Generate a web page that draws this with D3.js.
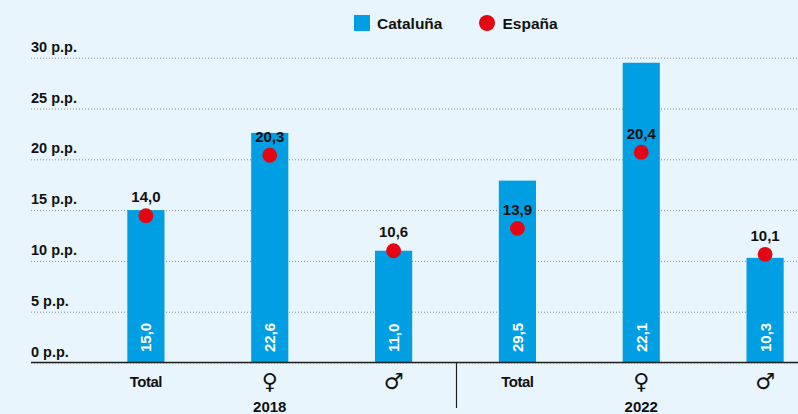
<!DOCTYPE html>
<html>
<head>
<meta charset="utf-8">
<script src="https://cdn.jsdelivr.net/npm/d3@7"></script>
<style>
  html, body { margin: 0; padding: 0; background: #e8f5fd; }
  svg { display: block; font-family: "Liberation Sans", Arial, sans-serif; }
</style>
</head>
<body>
<svg id="chart"></svg>
<script>
const width = 798;
const height = 414;

// data
const keys = ["2018-T", "2018-F", "2018-M", "2022-T", "2022-F", "2022-M"];
const catLabels = ["Total", "\u2640", "\u2642", "Total", "\u2640", "\u2642"];
const years = ["2018", "2022"];
const catValues = [15.0, 22.6, 11.0, 17.9, 29.5, 10.3]; // bar heights as drawn
const catText = ["15,0", "22,6", "11,0", "29,5", "22,1", "10,3"];
const espValues = [14.45, 20.4, 11.0, 13.2, 20.7, 10.65]; // dot positions as drawn
const espText = ["14,0", "20,3", "10,6", "13,9", "20,4", "10,1"];
const yTicks = [0, 5, 10, 15, 20, 25, 30];

const svg = d3.select("#chart").attr("width", width).attr("height", height);

const x = d3.scaleBand().domain(keys).range([84, 827]).paddingInner(0.7).paddingOuter(0.35);
const y = d3.scaleLinear().domain([0, 30]).range([362.5, 57.7]);

// y axis + dotted grid
const yAxis = svg.append("g")
  .attr("transform", "translate(31,0)")
  .call(d3.axisRight(y).tickValues(yTicks).tickSize(767).tickFormat(d => d + " p.p."));
yAxis.select(".domain").remove();
yAxis.selectAll(".tick line")
  .attr("stroke", "#8a8f94")
  .attr("stroke-dasharray", "1,2")
  .attr("stroke-width", 1);
yAxis.selectAll(".tick text")
  .attr("x", 0)
  .attr("dy", -6.5)
  .attr("text-anchor", "start")
  .attr("fill", "#111")
  .style("font-family", "'Liberation Sans', Arial, sans-serif")
  .style("font-size", "14.5px")
  .style("font-weight", "bold");

// bars
svg.selectAll(".bar")
  .data(keys)
  .enter()
  .append("rect")
  .attr("x", (d) => x(d))
  .attr("width", x.bandwidth())
  .attr("y", (d, i) => y(catValues[i]))
  .attr("height", (d, i) => y(0) - y(catValues[i]))
  .attr("fill", "#009fe3");

// bar labels (white, rotated)
svg.selectAll(".barlab")
  .data(keys)
  .enter()
  .append("text")
  .attr("transform", (d) => `translate(${x(d) + x.bandwidth() / 2 + 5.5}, 352) rotate(-90)`)
  .attr("fill", "#fff")
  .style("font-size", "15px")
  .style("font-weight", "bold")
  .text((d, i) => catText[i]);

// baseline
svg.append("line")
  .attr("x1", 31).attr("x2", width)
  .attr("y1", y(0)).attr("y2", y(0))
  .attr("stroke", "#222").attr("stroke-width", 1.6);

// separator between years
svg.append("line")
  .attr("x1", 456.5).attr("x2", 456.5)
  .attr("y1", y(0)).attr("y2", 408)
  .attr("stroke", "#222").attr("stroke-width", 1.2);

// x axis labels
const xAxis = svg.append("g")
  .attr("transform", `translate(0,${y(0)})`)
  .call(d3.axisBottom(x).tickSize(0).tickFormat((d, i) => catLabels[i]));
xAxis.select(".domain").remove();
xAxis.selectAll(".tick text")
  .attr("y", 0)
  .attr("dy", (d, i) => (i % 3 === 0 ? 24 : 26))
  .attr("fill", "#111")
  .style("font-family", (d, i) => (i % 3 === 0 ? "'Liberation Sans', Arial, sans-serif" : "'DejaVu Sans', sans-serif"))
  .style("font-size", (d, i) => (i % 3 === 0 ? "15px" : "22px"))
  .style("font-weight", (d, i) => (i % 3 === 0 ? "bold" : "normal"))
  .style("letter-spacing", (d, i) => (i % 3 === 0 ? "-0.5px" : "0"));

// year labels under middle bar
svg.selectAll(".year")
  .data(years)
  .enter()
  .append("text")
  .attr("x", (d, i) => x(keys[i * 3 + 1]) + x.bandwidth() / 2)
  .attr("y", 412)
  .attr("text-anchor", "middle")
  .attr("fill", "#111")
  .style("font-size", "15px")
  .style("font-weight", "bold")
  .text((d) => d);

// Spain dots
svg.selectAll(".dot")
  .data(keys)
  .enter()
  .append("circle")
  .attr("cx", (d) => x(d) + x.bandwidth() / 2)
  .attr("cy", (d, i) => y(espValues[i]))
  .attr("r", 7.4)
  .attr("fill", "#e30613");

svg.selectAll(".dotlab")
  .data(keys)
  .enter()
  .append("text")
  .attr("x", (d) => x(d) + x.bandwidth() / 2)
  .attr("y", (d, i) => y(espValues[i]) - 13.5)
  .attr("text-anchor", "middle")
  .attr("fill", "#111")
  .style("font-size", "15px")
  .style("font-weight", "bold")
  .text((d, i) => espText[i]);

// legend
const legend = svg.append("g");
legend.append("rect")
  .attr("x", 354).attr("y", 15).attr("width", 16).attr("height", 16)
  .attr("fill", "#009fe3");
legend.append("text")
  .attr("x", 377).attr("y", 28.5)
  .attr("fill", "#111")
  .style("font-size", "15.5px").style("font-weight", "bold")
  .text("Cataluña");
legend.append("circle")
  .attr("cx", 487).attr("cy", 23).attr("r", 8)
  .attr("fill", "#e30613");
legend.append("text")
  .attr("x", 502.5).attr("y", 28.5)
  .attr("fill", "#111")
  .style("font-size", "15.5px").style("font-weight", "bold")
  .text("España");
</script>
</body>
</html>
